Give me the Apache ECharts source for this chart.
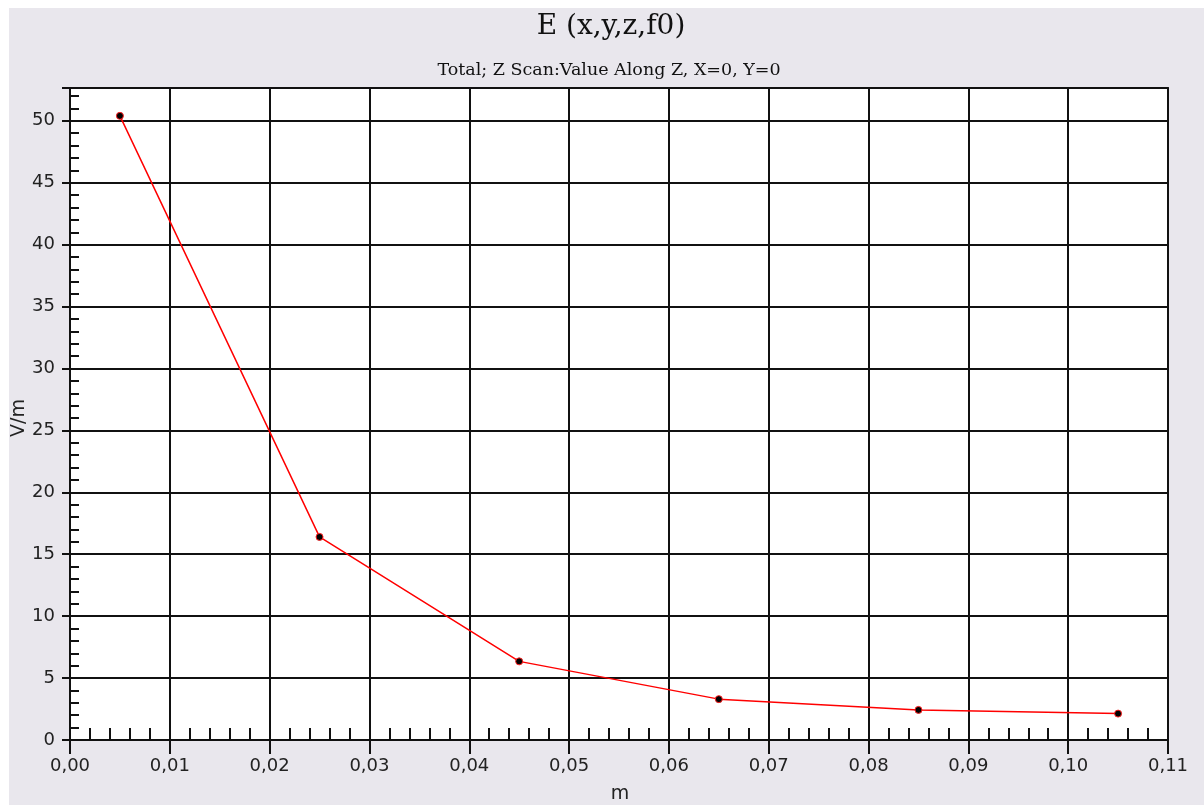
<!DOCTYPE html>
<html>
<head>
<meta charset="utf-8">
<script src="https://cdn.jsdelivr.net/npm/echarts@6/dist/echarts.min.js"></script>
<style>
html,body{margin:0;padding:0;background:#fff;}
#chart{width:1204px;height:805px;}
</style>
</head>
<body>
<div id="chart"></div>
<script>
// Data
const zPositions = [0.005, 0.025, 0.045, 0.065, 0.085, 0.105];
const eValues = [50.4, 16.4, 6.35, 3.3, 2.43, 2.13];
const titleText = 'E (x,y,z,f0)';
const subtitleText = 'Total; Z Scan:Value Along Z, X=0, Y=0';
const xAxisName = 'm';
const yAxisName = 'V/m';

const seriesData = zPositions.map((z, i) => [z, eValues[i]]);

const chart = echarts.init(document.getElementById('chart'), null, {renderer: 'canvas'});
const labelFont = 'DejaVu Sans';
const xFmt = v => v.toFixed(2).replace('.', ',');
const xMin = 0, xMax = 0.11, xInt = 0.01;
const yMin = 0, yMax = 52.65, yInt = 5;

const option = {
  backgroundColor: '#ffffff',
  animation: false,
  graphic: [
    {type: 'rect', z: -100, shape: {x: 9, y: 8, width: 1195, height: 797}, style: {fill: '#e9e7ed'}},
    {type: 'text', x: 611, y: 27, style: {text: titleText, font: '28px "DejaVu Serif"', fill: '#111', align: 'center', verticalAlign: 'middle'}},
    {type: 'text', x: 609, y: 70, style: {text: subtitleText, font: '17.5px "DejaVu Serif"', fill: '#111', align: 'center', verticalAlign: 'middle'}},
    {type: 'text', x: 19, y: 418, rotation: Math.PI / 2, style: {text: yAxisName, font: '19px "DejaVu Sans"', fill: '#222', align: 'center', verticalAlign: 'middle'}},
    {type: 'text', x: 620, y: 794, style: {text: xAxisName, font: '19px "DejaVu Sans"', fill: '#222', align: 'center', verticalAlign: 'middle'}}
  ],
  grid: {
    left: 70, right: 36, top: 88, bottom: 65,
    show: true, backgroundColor: '#ffffff', borderColor: '#222', borderWidth: 2
  },
  xAxis: [
    {
      type: 'value', min: xMin, max: xMax, interval: xInt, position: 'bottom',
      axisLine: {show: true, onZero: false, lineStyle: {color: '#111', width: 2}},
      axisTick: {show: true, length: 14, lineStyle: {color: '#111', width: 2}},
      axisLabel: {formatter: xFmt, margin: 17, fontFamily: labelFont, fontSize: 18, color: '#222'},
      splitLine: {show: true, lineStyle: {color: '#111', width: 2}}
    },
    {
      type: 'value', min: xMin, max: xMax, interval: xInt, position: 'bottom',
      axisLine: {show: false},
      axisTick: {show: false, inside: true},
      axisLabel: {show: false},
      splitLine: {show: false},
      minorTick: {show: true, splitNumber: 5, length: 12, lineStyle: {color: '#111', width: 2}}
    }
  ],
  yAxis: [
    {
      type: 'value', min: yMin, max: yMax, interval: yInt, position: 'left',
      axisLine: {show: true, onZero: false, lineStyle: {color: '#111', width: 2}},
      axisTick: {show: true, length: 8, lineStyle: {color: '#111', width: 2}},
      axisLabel: {margin: 15, fontFamily: labelFont, fontSize: 18, color: '#222',
        formatter: v => (v % 5 === 0 ? String(v) : '')},
      splitLine: {show: true, lineStyle: {color: '#111', width: 2}}
    },
    {
      type: 'value', min: yMin, max: yMax, interval: yInt, position: 'left',
      axisLine: {show: false},
      axisTick: {show: false, inside: true},
      axisLabel: {show: false},
      splitLine: {show: false},
      minorTick: {show: true, splitNumber: 5, length: 9, lineStyle: {color: '#111', width: 2}}
    }
  ],
  series: [
    {
      type: 'line',
      xAxisIndex: 0, yAxisIndex: 0,
      data: seriesData,
      lineStyle: {color: '#ff0000', width: 1.5},
      symbol: 'circle', symbolSize: 7,
      itemStyle: {color: '#000', borderColor: '#ff2020', borderWidth: 1},
      z: 10
    }
  ]
};
chart.setOption(option);
</script>
</body>
</html>
